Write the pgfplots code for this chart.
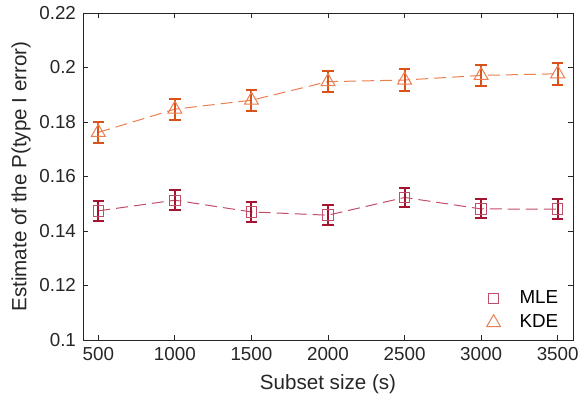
\documentclass[border=0pt]{standalone}
\usepackage{fontspec}
\setmainfont{Liberation Sans}
\usepackage{pgfplots}
\usepackage{pgfplotstable}
\pgfplotsset{compat=1.18}
\definecolor{mle}{HTML}{A2142F}
\definecolor{mlel}{HTML}{C24D68}
\definecolor{kde}{HTML}{D95319}
\definecolor{kdel}{HTML}{EB7F50}
\definecolor{axc}{HTML}{262626}

\pgfplotstableread{
x y e
500 0.1474 0.0036
1000 0.1513 0.0037
1500 0.1470 0.0036
2000 0.1458 0.0037
2500 0.1523 0.0035
3000 0.1481 0.0035
3500 0.1480 0.0036
}\mletab
\pgfplotstableread{
x y e
500 0.1762 0.0039
1000 0.1847 0.0038
1500 0.1880 0.0038
2000 0.1948 0.0039
2500 0.1954 0.0040
3000 0.1971 0.0038
3500 0.1977 0.0040
}\kdetab

\begin{document}
\begin{tikzpicture}
\begin{axis}[
  scale only axis, width=245pt, height=163.5pt,
  xmin=400, xmax=3600, ymin=0.1, ymax=0.22,
  xtick={500,1000,1500,2000,2500,3000,3500},
  ytick={0.1,0.12,0.14,0.16,0.18,0.2,0.22},
  yticklabels={0.1,0.12,0.14,0.16,0.18,0.2,0.22},
  scaled ticks=false,
  /pgf/number format/1000 sep={},
  /pgf/number format/assume math mode=true,
  tick align=inside, major tick length=2.5pt,
  axis line style={axc, line width=0.4pt},
  tick style={axc, line width=0.4pt},
  ticklabel style={font=\fontsize{9.4}{10}\selectfont, text=axc},
  xlabel={Subset size (s)},
  ylabel={Estimate of the P(type I error)},
  label style={font=\fontsize{10.3}{12}\selectfont, text=axc},
  ylabel style={yshift=-2.5pt},
  legend style={at={(rel axis cs:0.991,0.003)}, anchor=south east, draw=none, fill=none,
    font=\fontsize{9.4}{10}\selectfont, row sep=0pt, column sep=7.5pt},
  legend cell align=left,
]
\coordinate (bl) at (rel axis cs:0,0);
\coordinate (tr) at (rel axis cs:1,1);
\addplot[mlel, line width=0.5pt, dash pattern=on 6pt off 3pt, mark=square, mark size=2.6pt,
  mark options={solid, line width=0.5pt}, forget plot,
  error bars/.cd, y dir=both, y explicit,
  error bar style={mle, solid, line width=1pt},
  error mark options={mle, solid, line width=1pt, rotate=90, mark size=2.9pt}]
  table[x=x, y=y, y error=e] {\mletab};
\addplot[kdel, line width=0.5pt, dash pattern=on 6pt off 3pt, mark=triangle, mark size=4pt,
  mark options={solid, line width=0.5pt}, forget plot,
  error bars/.cd, y dir=both, y explicit,
  error bar style={kde, solid, line width=1pt},
  error mark options={kde, solid, line width=1pt, rotate=90, mark size=2.9pt}]
  table[x=x, y=y, y error=e] {\kdetab};
\addlegendimage{only marks, color=mlel, mark=square, mark size=2.6pt, mark options={solid, draw=mlel, line width=0.5pt}}
\addlegendentry{MLE}
\addlegendimage{only marks, color=kdel, mark=triangle, mark size=4pt, mark options={solid, draw=kdel, line width=0.5pt}}
\addlegendentry{KDE}
\end{axis}
\pgfresetboundingbox
\path[use as bounding box] ([xshift=-41.5pt,yshift=-30.5pt]bl) rectangle ([xshift=2.5pt,yshift=6.5pt]tr);
\end{tikzpicture}
\end{document}
